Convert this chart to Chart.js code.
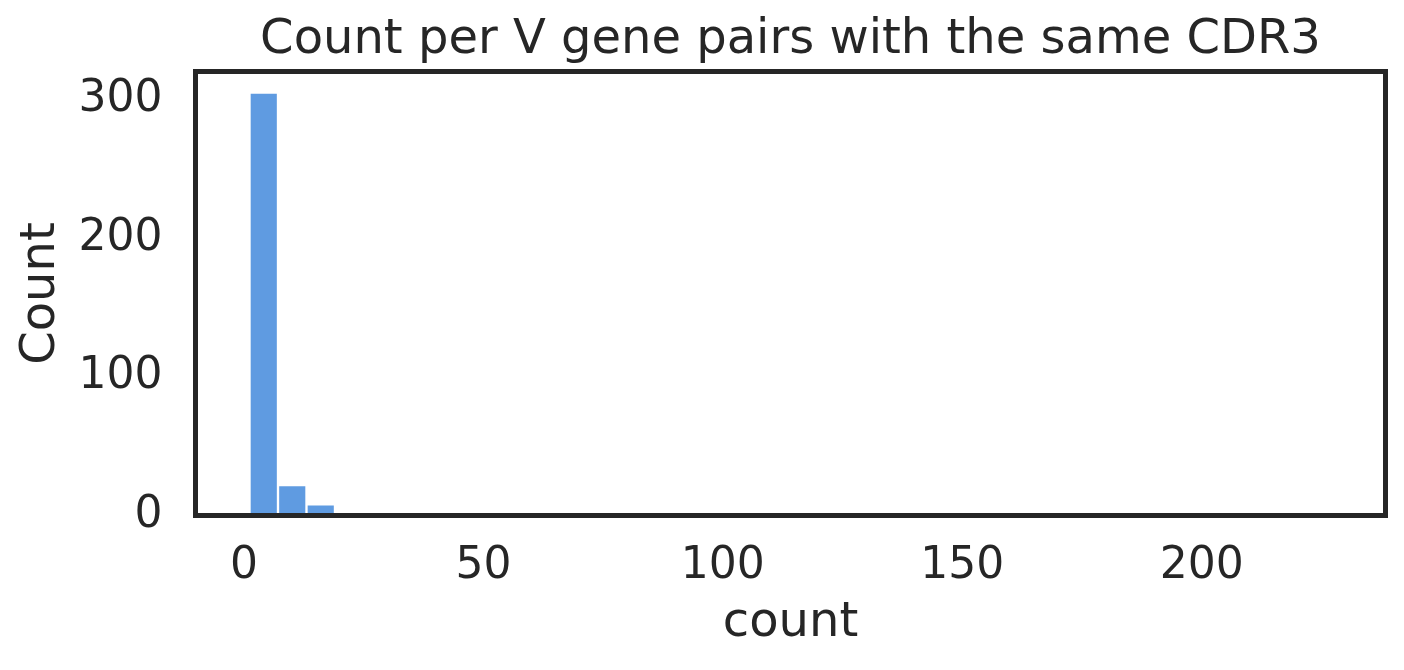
<!DOCTYPE html>
<html>
<head>
<meta charset="utf-8">
<script src="https://cdn.jsdelivr.net/npm/chart.js@4/dist/chart.umd.min.js"></script>
<style>
  html, body { margin: 0; padding: 0; background: #ffffff; }
  #wrap { width: 1404px; height: 670px; }
</style>
</head>
<body>
<div id="wrap"><canvas id="c" width="1404" height="670"></canvas></div>
<script>
// ---- data ----
const binEdges = [1.15, 7.1, 13.05, 19.0];
const binCounts = [305, 22, 8];
const xTicks = [0, 50, 100, 150, 200];
const yTicks = [0, 100, 200, 300];
const titleText = 'Count per V gene pairs with the same CDR3';
const xLabel = 'count';
const yLabel = 'Count';
const xRange = [-10.13, 238.4];
const yRange = [0, 320.25];

const INK = '#262626';
const FONT = "'DejaVu Sans', sans-serif";

const points = binCounts.map((c, i) => ({ x: (binEdges[i] + binEdges[i + 1]) / 2, y: c }));

const framePlugin = {
  id: 'frame',
  afterDatasetsDraw(chart) {
    const a = chart.chartArea, ctx = chart.ctx;
    ctx.save();
    ctx.strokeStyle = INK;
    ctx.lineWidth = 5;
    ctx.strokeRect(a.left, a.top, a.right - a.left, a.bottom - a.top);
    ctx.restore();
  }
};

new Chart(document.getElementById('c'), {
  type: 'bar',
  data: {
    datasets: [{
      data: points,
      backgroundColor: '#5f9be1',
      borderColor: '#ffffff',
      borderWidth: 1.5,
      barPercentage: 1,
      categoryPercentage: 1
    }]
  },
  options: {
    responsive: false,
    animation: false,
    devicePixelRatio: 1,
    layout: { padding: { left: 0, right: 18.5, top: 0, bottom: 0 } },
    plugins: {
      legend: { display: false },
      tooltip: { enabled: false },
      title: {
        display: true,
        fullSize: false,
        text: titleText,
        color: INK,
        font: { family: FONT, size: 48, weight: 'normal', lineHeight: 1.2 },
        padding: { top: 12, bottom: 1.9 }
      }
    },
    scales: {
      x: {
        type: 'linear',
        min: xRange[0],
        max: xRange[1],
        offset: false,
        grid: { display: false, drawTicks: false },
        border: { display: false },
        afterBuildTicks: s => { s.ticks = xTicks.map(v => ({ value: v })); },
        afterFit: s => { s.height = 154.5; },
        ticks: {
          color: INK,
          font: { family: FONT, size: 44 },
          padding: 25,
          autoSkip: false,
          maxRotation: 0,
          callback: v => String(v)
        },
        title: {
          display: true,
          text: xLabel,
          color: INK,
          font: { family: FONT, size: 48, lineHeight: 1.2 },
          padding: { top: 0, bottom: 17.5 }
        }
      },
      y: {
        type: 'linear',
        min: yRange[0],
        max: yRange[1],
        grid: { display: false, drawTicks: false },
        border: { display: false },
        afterBuildTicks: s => { s.ticks = yTicks.map(v => ({ value: v })); },
        afterFit: s => { s.width = 195.5; },
        ticks: {
          color: INK,
          font: { family: FONT, size: 44 },
          padding: 33,
          callback: v => String(v)
        },
        title: {
          display: true,
          text: yLabel,
          color: INK,
          font: { family: FONT, size: 48, lineHeight: 1.2 },
          padding: { top: 12.9, bottom: 0 }
        }
      }
    }
  },
  plugins: [framePlugin]
});
</script>
</body>
</html>
